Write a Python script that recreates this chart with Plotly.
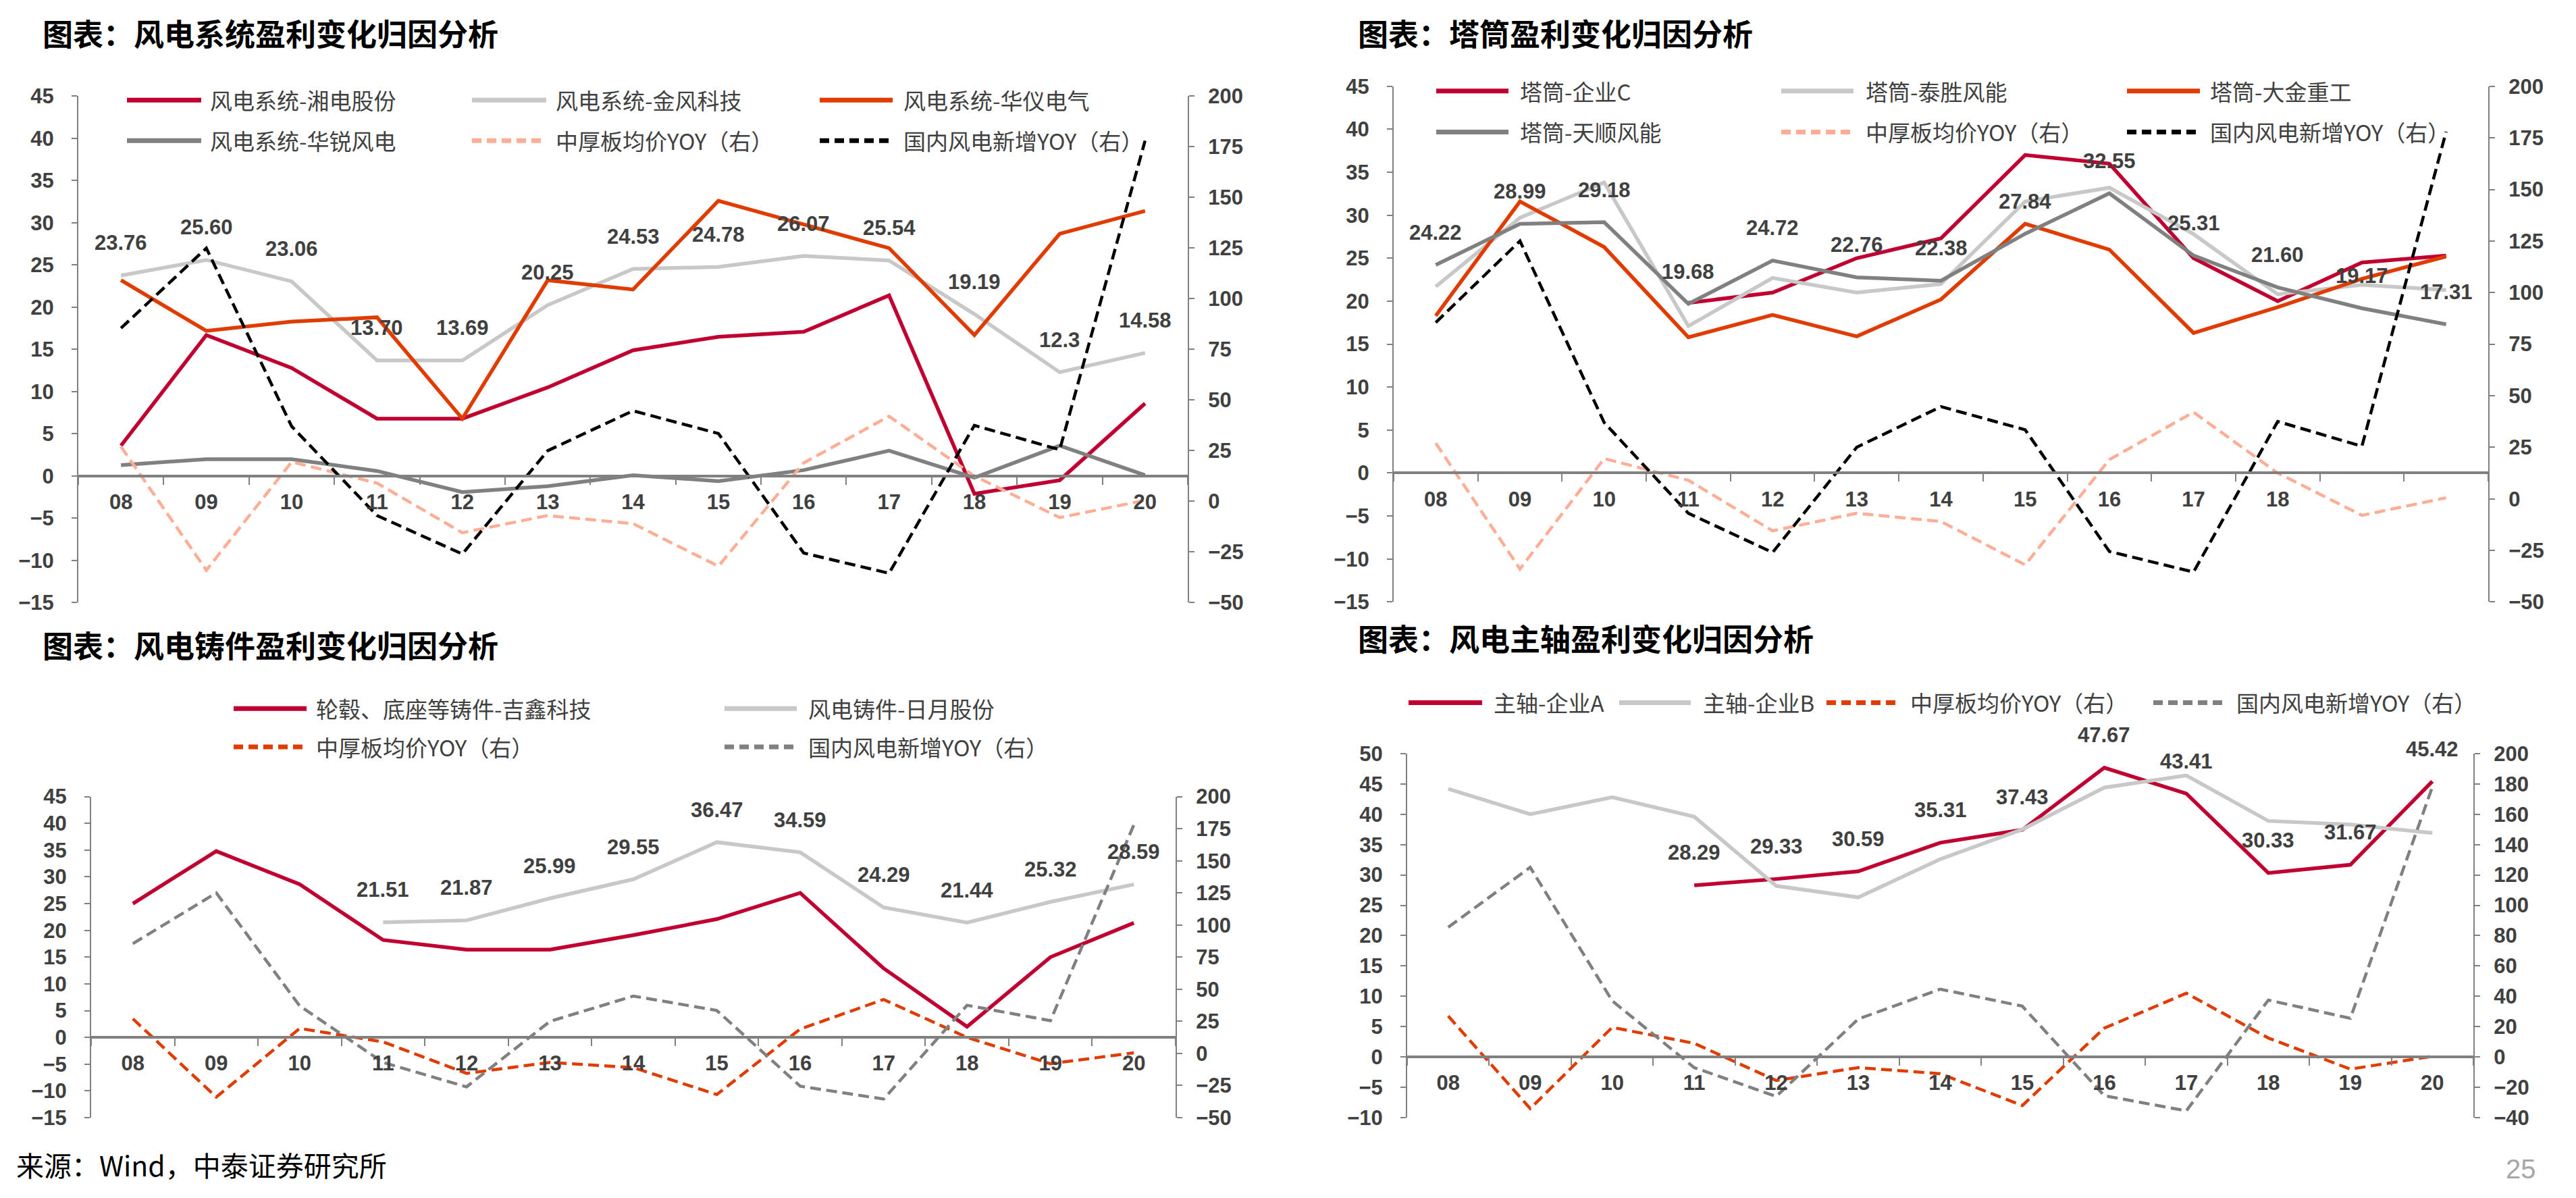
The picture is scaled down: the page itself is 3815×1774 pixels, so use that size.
import plotly.graph_objects as go

W, H = 3815, 1774

# ---------------- data ----------------
years = ['08', '09', '10', '11', '12', '13', '14', '15', '16', '17', '18', '19', '20']
tick_labels_full = ['08', '09', '10', '11', '12', '13', '14', '15', '16', '17', '18', '19', '20']
tick_labels_tower = ['08', '09', '10', '11', '12', '13', '14', '15', '16', '17', '18', '', '']

plate_price_yoy = [27, -34, 19.5, 9, -15.5, -7, -11, -32, 19, 42, 12.5, -8, 0.5]
wind_new_yoy = [85.5, 125, 37, -7, -26, 25, 44.7, 33.5, -25.5, -35.5, 37.5, 25.5, 178]

# panel 1: 风电系统
sys_xiangdian = [3.6, 16.7, 12.8, 6.8, 6.8, 10.5, 14.9, 16.5, 17.1, 21.4, -2.1, -0.5, 8.6]
sys_goldwind = [23.76, 25.60, 23.06, 13.70, 13.69, 20.25, 24.53, 24.78, 26.07, 25.54, 19.19, 12.3, 14.58]
sys_goldwind_labels = ['23.76', '25.60', '23.06', '13.70', '13.69', '20.25', '24.53', '24.78',
                       '26.07', '25.54', '19.19', '12.3', '14.58']
sys_huayi = [23.2, 17.2, 18.3, 18.8, 6.8, 23.2, 22.1, 32.6, 29.8, 27.0, 16.7, 28.7, 31.4]
sys_sinovel = [1.3, 2.0, 2.0, 0.6, -1.9, -1.2, 0.1, -0.6, 0.7, 3.0, -0.2, 3.6, 0.1]

# panel 2: 塔筒
tower_c = [None, None, None, 19.8, 21.0, 25.0, 27.3, 37.0, 36.0, 25.0, 20.0, 24.5, 25.3]
tower_taisheng = [21.7, 29.7, 33.8, 17.1, 22.7, 21.0, 22.0, 31.6, 33.2, 27.8, 20.8, 21.9, 21.3]
tower_dajin = [18.3, 31.6, 26.3, 15.8, 18.4, 15.9, 20.2, 29.0, 26.0, 16.3, 19.3, 22.6, 25.2]
tower_tianshun = [24.22, 28.99, 29.18, 19.68, 24.72, 22.76, 22.38, 27.84, 32.55, 25.31, 21.60, 19.17, 17.31]
tower_tianshun_labels = ['24.22', '28.99', '29.18', '19.68', '24.72', '22.76', '22.38', '27.84',
                         '32.55', '25.31', '21.60', '19.17', '17.31']

# panel 3: 铸件
cast_jixin = [25.0, 34.8, 28.6, 18.2, 16.4, 16.4, 19.1, 22.1, 27.0, 12.9, 2.0, 15.0, 21.4]
cast_riyue = [None, None, None, 21.51, 21.87, 25.99, 29.55, 36.47, 34.59, 24.29, 21.44, 25.32, 28.59]
cast_riyue_labels = ['', '', '', '21.51', '21.87', '25.99', '29.55', '36.47', '34.59', '24.29',
                     '21.44', '25.32', '28.59']

# panel 4: 主轴
shaft_a = [None, None, None, 28.29, 29.33, 30.59, 35.31, 37.43, 47.67, 43.41, 30.33, 31.67, 45.42]
shaft_a_labels = ['', '', '', '28.29', '29.33', '30.59', '35.31', '37.43', '47.67', '43.41',
                  '30.33', '31.67', '45.42']
shaft_b = [44.2, 40.0, 42.8, 39.6, 28.2, 26.3, 32.6, 37.5, 44.4, 46.4, 38.9, 38.3, 36.9]

# ---------------- styles ----------------
CRIMSON = '#C00030'
LGRAY = '#C8C8C8'
ORANGE = '#E03C00'
DGRAY = '#808080'
SALMON = '#FFAE96'
BLACK = '#000000'
TXT = '#404040'
AXC = '#808080'
NUM_FONT = 'Liberation Sans, Arial, sans-serif'
CJK_FONT = 'Noto Sans CJK SC, Noto Sans, sans-serif'
DASH = '16px,8px'
SOLID_W = 5.5
DASH_W = 4.5


def px(x):
    return x / W


def py(y):
    return 1 - y / H


panels = [
    dict(xa='x', yl='y', yr='y2', xdom=(116, 1759), ydom=(128, 893), lrange=(-15, 45), ldtick=5,
         rrange=(-50, 200), rdtick=25, ticktext=tick_labels_full,
         series=[
             (sys_xiangdian, CRIMSON, 'solid', 'l'),
             (sys_goldwind, LGRAY, 'solid', 'l'),
             (sys_huayi, ORANGE, 'solid', 'l'),
             (sys_sinovel, DGRAY, 'solid', 'l'),
             (plate_price_yoy, SALMON, DASH, 'r'),
             (wind_new_yoy, BLACK, DASH, 'r'),
         ],
         labels=(sys_goldwind, sys_goldwind_labels)),
    dict(xa='x2', yl='y3', yr='y4', xdom=(2064, 3685), ydom=(113, 892), lrange=(-15, 45), ldtick=5,
         rrange=(-50, 200), rdtick=25, ticktext=tick_labels_tower,
         series=[
             (tower_c, CRIMSON, 'solid', 'l'),
             (tower_taisheng, LGRAY, 'solid', 'l'),
             (tower_dajin, ORANGE, 'solid', 'l'),
             (tower_tianshun, DGRAY, 'solid', 'l'),
             (plate_price_yoy, SALMON, DASH, 'r'),
             (wind_new_yoy, BLACK, DASH, 'r'),
         ],
         labels=(tower_tianshun, tower_tianshun_labels)),
    dict(xa='x3', yl='y5', yr='y6', xdom=(135, 1741), ydom=(1186, 1671), lrange=(-15, 45), ldtick=5,
         rrange=(-50, 200), rdtick=25, ticktext=tick_labels_full,
         series=[
             (cast_jixin, CRIMSON, 'solid', 'l'),
             (cast_riyue, LGRAY, 'solid', 'l'),
             (plate_price_yoy, ORANGE, DASH, 'r'),
             (wind_new_yoy, DGRAY, DASH, 'r'),
         ],
         labels=(cast_riyue, cast_riyue_labels)),
    dict(xa='x4', yl='y7', yr='y8', xdom=(2084, 3663), ydom=(1121, 1671), lrange=(-10, 50), ldtick=5,
         rrange=(-40, 200), rdtick=20, ticktext=tick_labels_full,
         series=[
             (shaft_a, CRIMSON, 'solid', 'l'),
             (shaft_b, LGRAY, 'solid', 'l'),
             (plate_price_yoy, ORANGE, DASH, 'r'),
             (wind_new_yoy, DGRAY, DASH, 'r'),
         ],
         labels=(shaft_a, shaft_a_labels)),
]

fig = go.Figure()
layout = {}
annotations = []
shapes = []

num_font = dict(family=NUM_FONT, size=31, color=TXT, weight='bold')

for p in panels:
    xdom = [px(p['xdom'][0]), px(p['xdom'][1])]
    ydom = [py(p['ydom'][1]), py(p['ydom'][0])]
    lmin, lmax = p['lrange']
    zero_pos = ydom[0] + (0 - lmin) / (lmax - lmin) * (ydom[1] - ydom[0])
    xkey = 'xaxis' + p['xa'][1:]
    ylkey = 'yaxis' + p['yl'][1:]
    yrkey = 'yaxis' + p['yr'][1:]
    layout[xkey] = dict(domain=xdom, type='category', range=[-0.5, 12.5], anchor='free',
                        position=zero_pos, showline=True, linecolor=AXC, linewidth=4,
                        ticks='outside', ticklen=11, tickwidth=2, tickcolor=AXC,
                        tickson='boundaries', tickmode='array', tickvals=years,
                        ticktext=p['ticktext'], tickfont=num_font, showgrid=False,
                        zeroline=False, ticklabelstandoff=10, fixedrange=True)
    layout[ylkey] = dict(domain=ydom, anchor=p['xa'], range=list(p['lrange']), dtick=p['ldtick'],
                         tick0=0, showline=True, linecolor=AXC, linewidth=2, ticks='outside',
                         ticklen=8, tickwidth=2, tickcolor=AXC, showgrid=False, zeroline=False,
                         tickfont=num_font, ticklabelstandoff=20, fixedrange=True)
    layout[yrkey] = dict(overlaying=p['yl'], side='right', anchor=p['xa'], range=list(p['rrange']),
                         dtick=p['rdtick'], tick0=0, showline=True, linecolor=AXC, linewidth=2,
                         ticks='outside', ticklen=8, tickwidth=2, tickcolor=AXC, showgrid=False,
                         zeroline=False, tickfont=num_font, ticklabelstandoff=14, fixedrange=True)
    for vals, color, dash, side in p['series']:
        fig.add_trace(go.Scatter(
            x=years, y=vals, mode='lines', xaxis=p['xa'],
            yaxis=p['yl'] if side == 'l' else p['yr'],
            line=dict(color=color, width=SOLID_W if dash == 'solid' else DASH_W, dash=dash),
            connectgaps=False, showlegend=False, hoverinfo='skip'))
    vals, labs = p['labels']
    for idx, (v, lab) in enumerate(zip(vals, labs)):
        if v is None or lab == '':
            continue
        # category axis: position annotation by category index
        annotations.append(dict(x=idx, y=v, xref=p['xa'], yref=p['yl'], text=lab, showarrow=False,
                                yshift=48, xanchor='center', yanchor='middle', font=num_font))

# ---------------- titles / source ----------------
title_font = dict(family=CJK_FONT, size=45, color='#000000', weight='bold')
for txt, x, y in [('图表：风电系统盈利变化归因分析', 61, 32),
                  ('图表：塔筒盈利变化归因分析', 2009, 32),
                  ('图表：风电铸件盈利变化归因分析', 61, 956),
                  ('图表：风电主轴盈利变化归因分析', 2009, 946)]:
    annotations.append(dict(x=px(x), y=py(y), xref='paper', yref='paper', text=txt, showarrow=False,
                            xanchor='left', yanchor='middle', font=title_font))

annotations.append(dict(x=px(22), y=py(1741), xref='paper', yref='paper',
                        text='来源：Wind，中泰证券研究所', showarrow=False, xanchor='left',
                        yanchor='middle', font=dict(family=CJK_FONT, size=41, color='#000000')))
annotations.append(dict(x=px(3733), y=py(1748), xref='paper', yref='paper', text='25',
                        showarrow=False, xanchor='center', yanchor='middle',
                        font=dict(family=NUM_FONT, size=40, color='#A6A6A6')))

# ---------------- legends (manual) ----------------
legend_font = dict(family=CJK_FONT, size=33, color=TXT)
LEG_DASH = '14px,8px'
legend_items = [
    # panel 1
    (188, 298, 309, 134, CRIMSON, 'solid', '风电系统-湘电股份'),
    (699, 809, 821, 134, LGRAY, 'solid', '风电系统-金风科技'),
    (1214, 1322, 1336, 134, ORANGE, 'solid', '风电系统-华仪电气'),
    (188, 298, 309, 195, DGRAY, 'solid', '风电系统-华锐风电'),
    (699, 809, 821, 195, SALMON, LEG_DASH, '中厚板均价YOY（右）'),
    (1214, 1322, 1336, 195, BLACK, LEG_DASH, '国内风电新增YOY（右）'),
    # panel 2
    (2127, 2234, 2249, 120, CRIMSON, 'solid', '塔筒-企业C'),
    (2638, 2745, 2761, 120, LGRAY, 'solid', '塔筒-泰胜风能'),
    (3150, 3258, 3271, 120, ORANGE, 'solid', '塔筒-大金重工'),
    (2127, 2234, 2249, 182, DGRAY, 'solid', '塔筒-天顺风能'),
    (2638, 2745, 2761, 182, SALMON, LEG_DASH, '中厚板均价YOY（右）'),
    (3150, 3258, 3271, 182, BLACK, LEG_DASH, '国内风电新增YOY（右）'),
    # panel 3
    (346, 454, 466, 1053, CRIMSON, 'solid', '轮毂、底座等铸件-吉鑫科技'),
    (1073, 1180, 1195, 1053, LGRAY, 'solid', '风电铸件-日月股份'),
    (346, 454, 466, 1111, ORANGE, LEG_DASH, '中厚板均价YOY（右）'),
    (1073, 1180, 1195, 1111, DGRAY, LEG_DASH, '国内风电新增YOY（右）'),
    # panel 4
    (2086, 2195, 2210, 1044, CRIMSON, 'solid', '主轴-企业A'),
    (2398, 2504, 2520, 1044, LGRAY, 'solid', '主轴-企业B'),
    (2705, 2812, 2827, 1044, ORANGE, LEG_DASH, '中厚板均价YOY（右）'),
    (3189, 3298, 3310, 1044, DGRAY, LEG_DASH, '国内风电新增YOY（右）'),
]
for x0, x1, xt, y, color, dash, label in legend_items:
    shapes.append(dict(type='line', xref='paper', yref='paper', x0=px(x0), x1=px(x1),
                       y0=py(y), y1=py(y), line=dict(color=color, width=7, dash=dash)))
    annotations.append(dict(x=px(xt), y=py(y), xref='paper', yref='paper', text=label,
                            showarrow=False, xanchor='left', yanchor='middle', font=legend_font))

fig.update_layout(**layout)
fig.update_layout(width=W, height=H, autosize=False, margin=dict(l=0, r=0, t=0, b=0),
                  paper_bgcolor='white', plot_bgcolor='rgba(0,0,0,0)', showlegend=False,
                  annotations=annotations, shapes=shapes)

fig.write_html('out.html')
